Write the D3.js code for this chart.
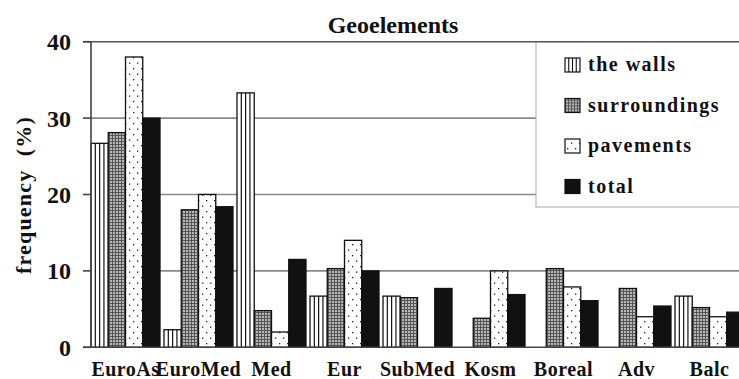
<!DOCTYPE html>
<html><head><meta charset="utf-8">
<script src="https://cdn.jsdelivr.net/npm/d3@7"></script>
<style>
html,body{margin:0;padding:0;background:#fff;overflow:hidden}
</style></head>
<body>
<svg id="chart" width="739" height="379"></svg>
<script>
const categories = ["EuroAs","EuroMed","Med","Eur","SubMed","Kosm","Boreal","Adv","Balc"];
const seriesNames = ["the walls","surroundings","pavements","total"];
const walls        = [26.7, 2.3, 33.3, 6.7, 6.7, 0, 0, 0, 6.7];
const surroundings = [28.1, 18.0, 4.8, 10.3, 6.5, 3.8, 10.3, 7.7, 5.2];
const pavements    = [38.0, 20.0, 2.0, 14.0, 0, 10.0, 7.9, 4.0, 4.0];
const total        = [30.0, 18.4, 11.5, 10.0, 7.7, 6.9, 6.1, 5.4, 4.6];
const yTicks = [0, 10, 20, 30, 40];
const title = "Geoelements";
const yTitle = "frequency  (%)";

const FONT = "'Liberation Serif', 'DejaVu Serif', serif";
const values = [walls, surroundings, pavements, total];
const svg = d3.select("#chart");
const defs = svg.append("defs");

const pSur = defs.append("pattern").attr("id","pSur").attr("patternUnits","userSpaceOnUse").attr("width",3).attr("height",3);
pSur.append("rect").attr("width",3).attr("height",3).attr("fill","#b8b8b8");
pSur.append("rect").attr("width",3).attr("height",1).attr("fill","#555");
pSur.append("rect").attr("width",1).attr("height",3).attr("fill","#555");
const pPav = defs.append("pattern").attr("id","pPav").attr("patternUnits","userSpaceOnUse").attr("width",8).attr("height",11);
pPav.append("rect").attr("width",8).attr("height",11).attr("fill","#fff");
pPav.append("rect").attr("x",2).attr("y",2).attr("width",1.3).attr("height",1.3).attr("fill","#222");
pPav.append("rect").attr("x",6).attr("y",7.5).attr("width",1.3).attr("height",1.3).attr("fill","#222");

const fills = ["#fff","url(#pSur)","url(#pPav)","#111"];

const x0 = d3.scaleBand().domain(categories).range([91, 91 + 73*9 - 4]).paddingInner(4/73).paddingOuter(0);
const x1 = d3.scaleBand().domain(seriesNames).range([0, x0.bandwidth()]).padding(0);
const y = d3.scaleLinear().domain([0, 40]).range([347.3, 41.7]);

const legendX = 536;

svg.append("g").selectAll("line").data(yTicks.filter(t => t > 0 && t < 40)).join("line")
  .attr("x1", 91).attr("x2", t => t === 30 ? legendX : 739)
  .attr("y1", d => y(d)).attr("y2", d => y(d))
  .attr("stroke", "#8a8a8a").attr("stroke-width", 1.6);

svg.append("rect").attr("x", legendX).attr("y", y(40)).attr("width", 260).attr("height", 207 - y(40))
  .attr("fill", "#fff").attr("stroke", "#aaa").attr("stroke-width", 1);

svg.append("line").attr("x1", 83).attr("x2", 739).attr("y1", y(40)).attr("y2", y(40))
  .attr("stroke", "#555").attr("stroke-width", 1.6);

const groups = svg.append("g").selectAll("g").data(categories).join("g")
  .attr("transform", c => `translate(${x0(c)},0)`);
groups.selectAll("rect").data((c, i) => seriesNames.map((s, j) => ({s, j, v: values[j][i]}))).join("rect")
  .attr("x", d => x1(d.s)).attr("width", x1.bandwidth())
  .attr("y", d => y(d.v)).attr("height", d => y(0) - y(d.v))
  .attr("fill", d => fills[d.j]).attr("stroke", "#111").attr("stroke-width", 1.3)
  .attr("display", d => d.v > 0 ? null : "none");
groups.each(function(c, i) {
  const v = walls[i];
  if (v <= 0) return;
  const g = d3.select(this);
  const bx = x1("the walls"), bw = x1.bandwidth();
  [1, 2, 3].forEach(k => {
    g.append("line").attr("x1", bx + bw*k/4).attr("x2", bx + bw*k/4)
      .attr("y1", y(v)).attr("y2", y(0)).attr("stroke", "#111").attr("stroke-width", 1.2);
  });
});

svg.append("line").attr("x1", 91).attr("x2", 91).attr("y1", y(40)).attr("y2", y(0))
  .attr("stroke", "#444").attr("stroke-width", 1.6);
svg.append("line").attr("x1", 83).attr("x2", 739).attr("y1", y(0)).attr("y2", y(0))
  .attr("stroke", "#444").attr("stroke-width", 1.6);
const yAxis = svg.append("g").selectAll("g").data(yTicks).join("g");
yAxis.append("line").attr("x1", 83).attr("x2", 91).attr("y1", d => y(d)).attr("y2", d => y(d))
  .attr("stroke", "#444").attr("stroke-width", 1.6);

function txt(sel) {
  return sel.attr("font-family", FONT).attr("font-weight", "bold").attr("fill", "#111");
}

txt(yAxis.append("text")).attr("x", 71).attr("y", d => y(d)).attr("dy", "0.35em")
  .attr("text-anchor", "end").attr("font-size", 24).text(d => d);

txt(svg.append("g").selectAll("text").data(categories).join("text"))
  .attr("x", c => x0(c) + x0.bandwidth()/2).attr("y", 376)
  .attr("text-anchor", "middle").attr("font-size", 20).attr("letter-spacing", 0.5)
  .text(c => c);

txt(svg.append("text")).attr("x", 393).attr("y", 33).attr("text-anchor", "middle")
  .attr("font-size", 24).text(title);

txt(svg.append("text")).attr("transform", "translate(31,195) rotate(-90)")
  .attr("text-anchor", "middle").attr("font-size", 22).attr("letter-spacing", 1.2)
  .style("white-space", "pre").text(yTitle);

const leg = svg.append("g").selectAll("g").data(seriesNames).join("g")
  .attr("transform", (d, i) => `translate(565,${65 + i*40.5})`);
leg.append("rect").attr("x", 0).attr("y", -7).attr("width", 15).attr("height", 14)
  .attr("fill", (d, i) => fills[i]).attr("stroke", "#111").attr("stroke-width", 1.2);
leg.filter((d, i) => i === 0).each(function() {
  const g = d3.select(this);
  [1, 2, 3].forEach(k => g.append("line").attr("x1", 15*k/4).attr("x2", 15*k/4)
    .attr("y1", -7).attr("y2", 7).attr("stroke", "#111").attr("stroke-width", 1.1));
});
txt(leg.append("text")).attr("x", 23).attr("y", 0).attr("dy", "0.32em")
  .attr("font-size", 20).attr("letter-spacing", 1.5).text(d => d);
</script>
</body></html>
